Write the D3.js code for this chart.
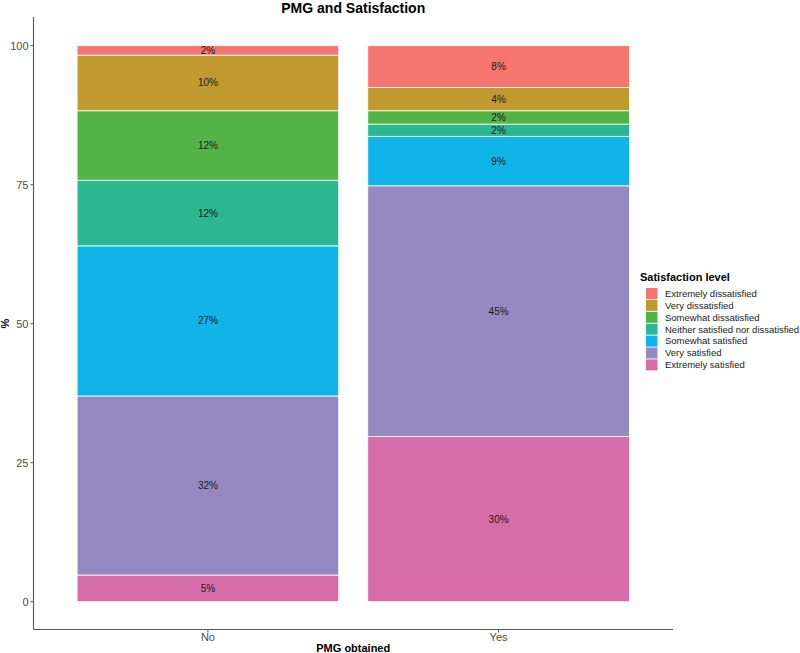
<!DOCTYPE html>
<html><head><meta charset="utf-8">
<script src="https://cdn.jsdelivr.net/npm/d3@7"></script>
<style>body{margin:0;background:#fff;} text{font-family:Arial,"Liberation Sans",sans-serif;}</style>
</head><body>
<svg id="c" width="800" height="653"></svg>
<script>
const groups = ["No", "Yes"];
const levels = ["Extremely dissatisfied","Very dissatisfied","Somewhat dissatisfied","Neither satisfied nor dissatisfied","Somewhat satisfied","Very satisfied","Extremely satisfied"];
const colors = ["#F4766E","#C09A2F","#52B447","#2BB78F","#10B4E9","#9589C1","#D66DA9"];
// percentages, in the order of levels
const valuesNo  = [1.7, 10.0, 12.5, 11.8, 27.0, 32.2, 4.8];
const valuesYes = [7.5, 4.2, 2.4, 2.2, 8.9, 45.1, 29.7];
const labelsNo  = ["2%","10%","12%","12%","27%","32%","5%"];
const labelsYes = ["8%","4%","2%","2%","9%","45%","30%"];
const yTicks = [0,25,50,75,100];

const svg = d3.select("#c");
const L = 33.5, R = 673, T = 17.9, B = 629.5;
const y = d3.scaleLinear().domain([-5,105]).range([B,T]);
// emulate ggplot discrete expansion: centers at 0.6 and 1.6 units of 2.2
const unit = (R-L)/2.2;
const cx = d3.scalePoint().domain(groups).range([L+0.6*unit, L+1.6*unit]);
const bw = 0.9*unit;

const data = [valuesNo, valuesYes];
const labs = [labelsNo, labelsYes];
groups.forEach((g,gi)=>{
  let cum = 0;
  const segs = [];
  for (let i = levels.length-1; i>=0; i--) {
    segs.push({i, y0:cum, y1:cum+data[gi][i], lab:labs[gi][i]});
    cum += data[gi][i];
  }
  const gg = svg.append("g");
  gg.selectAll("rect").data(segs).join("rect")
    .attr("x", cx(g)-bw/2).attr("width", bw)
    .attr("y", d=>y(d.y1)).attr("height", d=>y(d.y0)-y(d.y1))
    .attr("fill", d=>colors[d.i]).attr("stroke","#fff").attr("stroke-width",0.8);
  gg.selectAll("text").data(segs).join("text")
    .attr("x", cx(g)).attr("y", d=>y((d.y0+d.y1)/2))
    .attr("dy","0.35em").attr("text-anchor","middle")
    .attr("font-size",10).attr("fill","#1a1a1a").text(d=>d.lab);
});

// axes
const ax = svg.append("g");
ax.append("line").attr("x1",L).attr("x2",L).attr("y1",T-1).attr("y2",B).attr("stroke","#555").attr("stroke-width",1.1);
ax.append("line").attr("x1",L).attr("x2",R).attr("y1",B).attr("y2",B).attr("stroke","#555").attr("stroke-width",1.1);
yTicks.forEach(t=>{
  ax.append("line").attr("x1",L-3).attr("x2",L).attr("y1",y(t)).attr("y2",y(t)).attr("stroke","#555");
  ax.append("text").attr("x",L-5).attr("y",y(t)).attr("dy","0.35em").attr("text-anchor","end")
    .attr("font-size",11).attr("fill","#4D4D4D").text(t);
});
groups.forEach(g=>{
  ax.append("line").attr("x1",cx(g)).attr("x2",cx(g)).attr("y1",B).attr("y2",B+3).attr("stroke","#555");
  ax.append("text").attr("x",cx(g)).attr("y",641).attr("text-anchor","middle")
    .attr("font-size",11).attr("fill","#4D4D4D").text(g);
});
svg.append("text").attr("x",(L+R)/2).attr("y",652).attr("text-anchor","middle")
  .attr("font-size",11).attr("font-weight","bold").attr("fill","#000").text("PMG obtained");
svg.append("text").attr("transform",`translate(9,${(T+B)/2}) rotate(-90)`).attr("text-anchor","middle")
  .attr("font-size",11).attr("font-weight","bold").attr("fill","#000").text("%");
svg.append("text").attr("x",(L+R)/2).attr("y",12.5).attr("text-anchor","middle")
  .attr("font-size",14).attr("font-weight","bold").attr("fill","#000").text("PMG and Satisfaction");

// legend
const lg = svg.append("g");
lg.append("text").attr("x",640).attr("y",281).attr("font-size",11).attr("font-weight","bold").attr("fill","#000").text("Satisfaction level");
levels.forEach((l,i)=>{
  const yy = 288 + i*11.9;
  lg.append("rect").attr("x",646).attr("y",yy).attr("width",11.5).attr("height",11).attr("fill",colors[i]);
  lg.append("text").attr("x",665).attr("y",yy+5.5).attr("dy","0.35em").attr("font-size",9.5).attr("fill","#1a1a1a").text(l);
});
</script>
</body></html>
